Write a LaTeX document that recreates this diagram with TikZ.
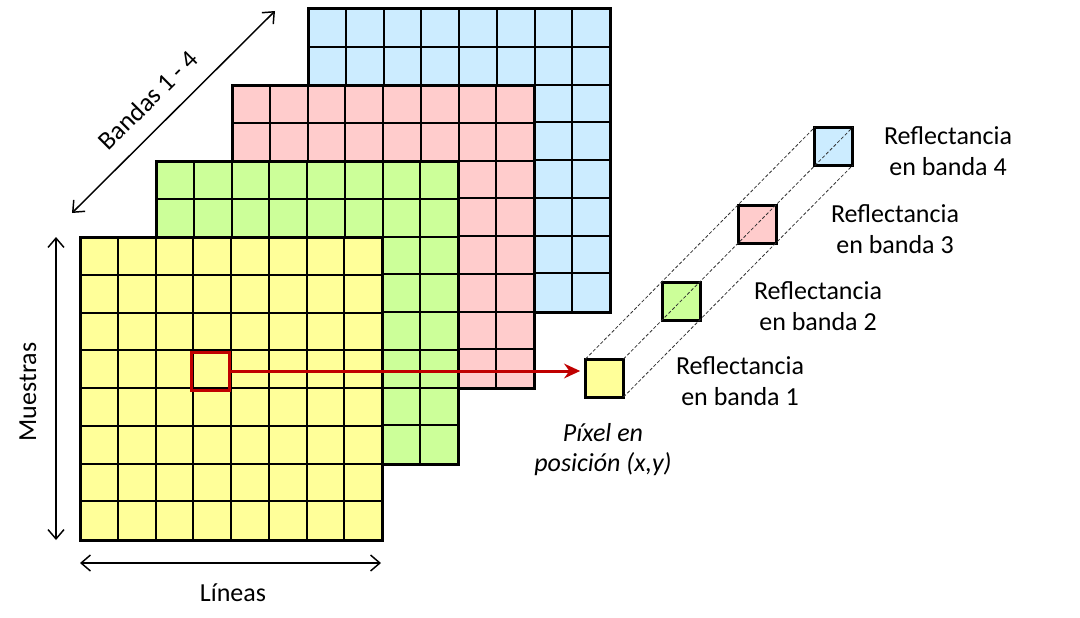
\documentclass[tikz,border=0pt]{standalone}
\usepackage{fontspec}
\setmainfont{Carlito}
\usetikzlibrary{arrows.meta}
\definecolor{bandyellow}{HTML}{FFFF99}
\definecolor{bandgreen}{HTML}{CCFF99}
\definecolor{bandpink}{HTML}{FFCCCC}
\definecolor{bandblue}{HTML}{CCECFF}
\definecolor{selred}{HTML}{C00000}

\begin{document}
\begin{tikzpicture}[x=0.75pt,y=-0.75pt,
  gridline/.style={line width=1.5pt},
  gridborder/.style={line width=2.25pt},
  pix/.style={draw,line width=2.25pt,minimum size=28.5pt,inner sep=0pt,outer sep=0pt},
  dimarrow/.style={line width=1.1pt,{Straight Barb[length=7pt,width=12pt]}-{Straight Barb[length=7pt,width=12pt]}},
  guide/.style={line width=0.6pt,black!80,dash pattern=on 2.5pt off 1.5pt},
  lbl/.style={font=\fontsize{19.5}{23.25}\selectfont,align=center,inner sep=0pt}]
\useasboundingbox (0,0) rectangle (1080,617);

% four bands, back to front
\foreach \i/\c in {3/bandblue,2/bandpink,1/bandgreen,0/bandyellow} {
  \begin{scope}[shift={(76*\i,-76*\i)}]
    \fill[\c] (80,237) rectangle (382,540);
    \foreach \k in {1,...,7} {
      \draw[gridline] ({80+37.75*\k},237) -- ++(0,303);
      \draw[gridline] (80,{237+37.75*\k}) -- ++(302,0);
    }
    \draw[gridborder] (80,237) rectangle (382,540);
  \end{scope}
}

% selected pixel
\node[pix,draw=selred] (sel) at (210.5,371) {};

% pixel values per band
\node[pix,fill=bandyellow] (px1) at (604.5,378) {};
\node[pix,fill=bandgreen] (px2) at (681,301) {};
\node[pix,fill=bandpink] (px3) at (757,224) {};
\node[pix,fill=bandblue] (px4) at (833.5,146.5) {};
\draw[guide] (px1.north west) -- (px4.north west);
\draw[guide] (px1.north east) -- (px4.north east);
\draw[guide] (px1.south east) -- (px4.south east);

\draw[selred,line width=2.25pt,-{Stealth[length=12pt,width=11pt]},shorten >=4pt]
  (sel.east) -- (sel.east -| px1.west);

% axes
\coordinate (bandlo) at (72,213);
\coordinate (bandhi) at (275,11);
\coordinate (mtop) at (56,237);
\coordinate (mbot) at (56,540);
\coordinate (lleft) at (80,563);
\coordinate (lright) at (381,563);
\draw[dimarrow] (bandlo) -- (bandhi);
\draw[dimarrow] (mtop) -- (mbot);
\draw[dimarrow] (lleft) -- (lright);
\node[lbl,rotate=45] (bandas) at (148,100) {Bandas 1 - 4};
\node[lbl,rotate=90] (muestras) at (28,392) {Muestras};
\node[lbl] (lineas) at (233,593) {Líneas};

% labels
\node[lbl] (r1) at (740,381) {Reflectancia\\en banda 1};
\node[lbl] (r2) at (818,306) {Reflectancia\\en banda 2};
\node[lbl] (r3) at (895,229) {Reflectancia\\en banda 3};
\node[lbl] (r4) at (948,151) {Reflectancia\\en banda 4};
\node[lbl,font=\fontsize{19.5}{22.5}\selectfont\itshape] (pos) at (603,450) {Píxel en\\posición (x,y)};
\end{tikzpicture}
\end{document}
